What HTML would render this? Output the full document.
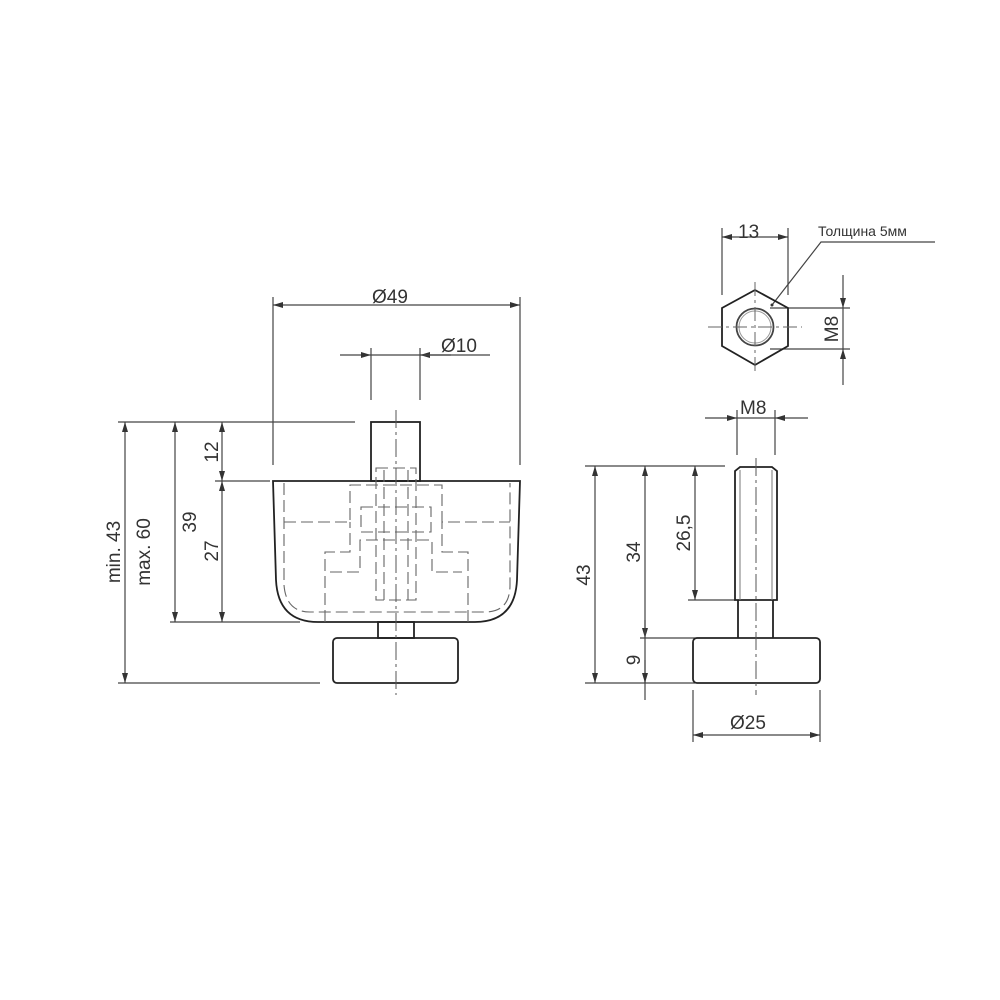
<!DOCTYPE html>
<html><head><meta charset="utf-8"><style>
html,body{margin:0;padding:0;background:#fff}
svg{display:block}
text{font-family:"Liberation Sans","DejaVu Sans",sans-serif;fill:#333}
</style></head><body>
<svg width="1000" height="1000" viewBox="0 0 1000 1000" xmlns="http://www.w3.org/2000/svg">
<defs>
<marker id="a" viewBox="0 0 10 10" refX="10" refY="5" markerWidth="10" markerHeight="10" orient="auto-start-reverse" markerUnits="userSpaceOnUse"><path d="M0,2 L10,5 L0,8 z" fill="#333"/></marker>
</defs>
<g stroke="#444" stroke-width="1.2" fill="none">
<line x1="273" y1="297" x2="273" y2="465"/>
<line x1="520" y1="297" x2="520" y2="465"/>
<line x1="371" y1="348" x2="371" y2="400"/>
<line x1="420" y1="348" x2="420" y2="400"/>
<line x1="118" y1="422" x2="355" y2="422"/>
<line x1="215" y1="481" x2="270" y2="481"/>
<line x1="170" y1="622" x2="300" y2="622"/>
<line x1="118" y1="683" x2="320" y2="683"/>
<line x1="273" y1="305" x2="520" y2="305" marker-start="url(#a)" marker-end="url(#a)"/>
<line x1="340" y1="355" x2="371" y2="355" marker-end="url(#a)"/>
<line x1="451" y1="355" x2="420" y2="355" marker-end="url(#a)"/>
<line x1="371" y1="355" x2="490" y2="355"/>
<line x1="222" y1="422" x2="222" y2="481" marker-start="url(#a)" marker-end="url(#a)"/>
<line x1="222" y1="481" x2="222" y2="622" marker-start="url(#a)" marker-end="url(#a)"/>
<line x1="175" y1="422" x2="175" y2="622" marker-start="url(#a)" marker-end="url(#a)"/>
<line x1="125" y1="422" x2="125" y2="683" marker-start="url(#a)" marker-end="url(#a)"/>
</g>
<g stroke="#222" stroke-width="1.8" fill="none">
<path d="M273,481 L520,481 L517,580 Q515,622 475,622 L318,622 Q278,622 276,580 Z"/>
<rect x="371" y="422" width="49" height="59"/>
<rect x="378" y="622" width="36" height="16"/>
<rect x="333" y="638" width="125" height="45" rx="4"/>
</g>
<g stroke="#666" stroke-width="1.1" fill="none" stroke-dasharray="12,5">
<path d="M284,483 L284,585 Q286,612 310,612 L485,612 Q510,612 510,585 L510,483"/>
<path d="M284,522 L350,522 L350,485 L442,485 L442,522 L510,522"/>
<path d="M325,622 L325,552 L350,552 L350,522"/>
<path d="M468,622 L468,552 L442,552 L442,522"/>
<path d="M330,572 L360,572 L360,540 L432,540 L432,572 L462,572"/>
<rect x="361" y="507" width="70" height="25"/>
<rect x="376" y="468" width="40" height="132"/>
<line x1="384" y1="470" x2="384" y2="600"/>
<line x1="408" y1="470" x2="408" y2="600"/>
</g>
<line x1="396" y1="410" x2="396" y2="695" stroke="#555" stroke-width="1" stroke-dasharray="18,4,3,4"/>
<text x="372" y="303" font-size="19">Ø49</text>
<text x="441" y="352" font-size="19">Ø10</text>
<text transform="translate(218,452) rotate(-90)" font-size="19" text-anchor="middle">12</text>
<text transform="translate(218,551) rotate(-90)" font-size="19" text-anchor="middle">27</text>
<text transform="translate(196,522) rotate(-90)" font-size="19" text-anchor="middle">39</text>
<text transform="translate(150,552) rotate(-90)" font-size="19" text-anchor="middle">max. 60</text>
<text transform="translate(120,552) rotate(-90)" font-size="19" text-anchor="middle">min. 43</text>

<g stroke="#444" stroke-width="1.2" fill="none">
<line x1="722" y1="228" x2="722" y2="295"/>
<line x1="788" y1="228" x2="788" y2="295"/>
<line x1="722" y1="237" x2="788" y2="237" marker-start="url(#a)" marker-end="url(#a)"/>
<polyline points="772,305 821,242 935,242"/>
<line x1="770" y1="308" x2="850" y2="308"/>
<line x1="770" y1="349" x2="850" y2="349"/>
<line x1="843" y1="275" x2="843" y2="308" marker-end="url(#a)"/>
<line x1="843" y1="385" x2="843" y2="349" marker-end="url(#a)"/>
<line x1="843" y1="308" x2="843" y2="349"/>
</g>
<circle cx="772" cy="305" r="1.5" fill="#333"/>
<polygon points="755,290 788,308 788,346 755,365 722,346 722,308" stroke="#222" stroke-width="1.8" fill="none"/>
<circle cx="755" cy="327" r="18.5" stroke="#444" stroke-width="1.8" fill="none"/>
<circle cx="755" cy="327" r="16" stroke="#999" stroke-width="1" fill="none"/>
<g stroke="#666" stroke-width="1" stroke-dasharray="14,4,3,4">
<line x1="708" y1="327" x2="802" y2="327"/>
<line x1="755" y1="282" x2="755" y2="372"/>
</g>
<text x="738" y="238" font-size="19">13</text>
<text x="818" y="236" font-size="14">Толщина 5мм</text>
<text transform="translate(838,329) rotate(-90)" font-size="19" text-anchor="middle">M8</text>

<g stroke="#444" stroke-width="1.2" fill="none">
<line x1="737" y1="410" x2="737" y2="455"/>
<line x1="775" y1="410" x2="775" y2="455"/>
<line x1="705" y1="418" x2="737" y2="418" marker-end="url(#a)"/>
<line x1="808" y1="418" x2="775" y2="418" marker-end="url(#a)"/>
<line x1="737" y1="418" x2="775" y2="418"/>
<line x1="693" y1="690" x2="693" y2="742"/>
<line x1="820" y1="690" x2="820" y2="742"/>
<line x1="693" y1="735" x2="820" y2="735" marker-start="url(#a)" marker-end="url(#a)"/>
<line x1="585" y1="466" x2="725" y2="466"/>
<line x1="688" y1="600" x2="735" y2="600"/>
<line x1="640" y1="638" x2="700" y2="638"/>
<line x1="585" y1="683" x2="695" y2="683"/>
<line x1="595" y1="466" x2="595" y2="683" marker-start="url(#a)" marker-end="url(#a)"/>
<line x1="645" y1="466" x2="645" y2="638" marker-start="url(#a)" marker-end="url(#a)"/>
<line x1="645" y1="620" x2="645" y2="700"/>
<line x1="645" y1="660" x2="645" y2="683" marker-end="url(#a)"/>
<line x1="695" y1="466" x2="695" y2="600" marker-start="url(#a)" marker-end="url(#a)"/>
</g>
<g stroke="#222" stroke-width="1.8" fill="none">
<path d="M735,600 L735,471 L740,467 L772,467 L777,471 L777,600 Z"/>
<path d="M738,600 L738,638 M773,600 L773,638"/>
<rect x="693" y="638" width="127" height="45" rx="4"/>
</g>
<g stroke="#777" stroke-width="1">
<line x1="740" y1="470" x2="740" y2="600"/>
<line x1="772" y1="470" x2="772" y2="600"/>
</g>
<line x1="756" y1="458" x2="756" y2="695" stroke="#555" stroke-width="1" stroke-dasharray="18,4,3,4"/>
<text x="740" y="414" font-size="19">M8</text>
<text x="730" y="729" font-size="19">Ø25</text>
<text transform="translate(590,575) rotate(-90)" font-size="19" text-anchor="middle">43</text>
<text transform="translate(640,552) rotate(-90)" font-size="19" text-anchor="middle">34</text>
<text transform="translate(690,533) rotate(-90)" font-size="19" text-anchor="middle">26,5</text>
<text transform="translate(640,660) rotate(-90)" font-size="19" text-anchor="middle">9</text>
</svg>
</body></html>
